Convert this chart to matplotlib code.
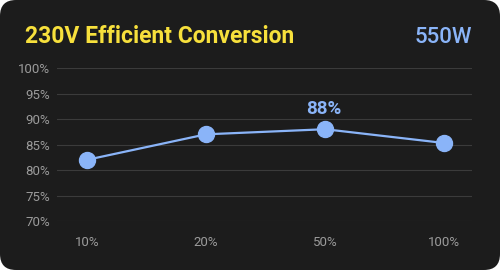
import matplotlib.pyplot as plt
from matplotlib.patches import FancyBboxPatch

CARD = "#1c1c1c"
TITLE_INK = "#f7e03c"
BLUE = "#8ab4f8"
TICK_INK = "#9b9b9b"
GRID = "#3b3b3b"

plt.rcParams["font.family"] = ["Roboto", "DejaVu Sans"]

loads = ["10%", "20%", "50%", "100%"]
efficiency = [82.0, 87.0, 88.0, 85.3]
y_ticks = [70, 75, 80, 85, 90, 95, 100]
peak_label = "88%"

fig = plt.figure(figsize=(5, 2.7), dpi=100)
fig.patch.set_facecolor("white")

# rounded dark card behind everything
bg = fig.add_axes([0, 0, 1, 1], zorder=-1)
bg.axis("off")
bg.set_xlim(0, 500)
bg.set_ylim(0, 270)
bg.add_patch(FancyBboxPatch((0, 0), 500, 270, boxstyle="round,pad=0,rounding_size=16",
                            facecolor=CARD, edgecolor="none"))

ax = fig.add_axes([0.114, 0.1815, 0.83, 0.5665])
ax.set_facecolor("none")
x = list(range(len(loads)))
ax.plot(x, efficiency, color=BLUE, linewidth=1.6, marker="o", markersize=11.5,
        markerfacecolor=BLUE, markeredgecolor=BLUE, clip_on=False, zorder=3)

peak = efficiency.index(max(efficiency))
ax.annotate(peak_label, xy=(peak, efficiency[peak]), xytext=(-1, 11), textcoords="offset points",
            ha="center", va="baseline", fontsize=13.5, fontweight="bold", color=BLUE)

ax.set_xlim(-0.252, 3.235)
ax.set_ylim(70, 100)
ax.set_yticks(y_ticks)
ax.set_yticklabels([f"{t}%" for t in y_ticks])
ax.set_xticks(x)
ax.set_xticklabels(loads)
ax.tick_params(axis="both", length=0, colors=TICK_INK, labelsize=9.5)
ax.tick_params(axis="y", pad=5)
ax.tick_params(axis="x", pad=11)
ax.grid(axis="y", color=GRID, linewidth=0.8)
ax.set_axisbelow(True)
for spine in ax.spines.values():
    spine.set_visible(False)

fig.text(25 / 500, 1 - 43 / 270, "230V Efficient Conversion", fontsize=16.5, fontweight="bold",
         color=TITLE_INK, ha="left", va="baseline")
fig.text(472 / 500, 1 - 43 / 270, "550W", fontsize=16, fontweight="medium",
         color=BLUE, ha="right", va="baseline")

plt.savefig("out.png", dpi=100, facecolor="white")
